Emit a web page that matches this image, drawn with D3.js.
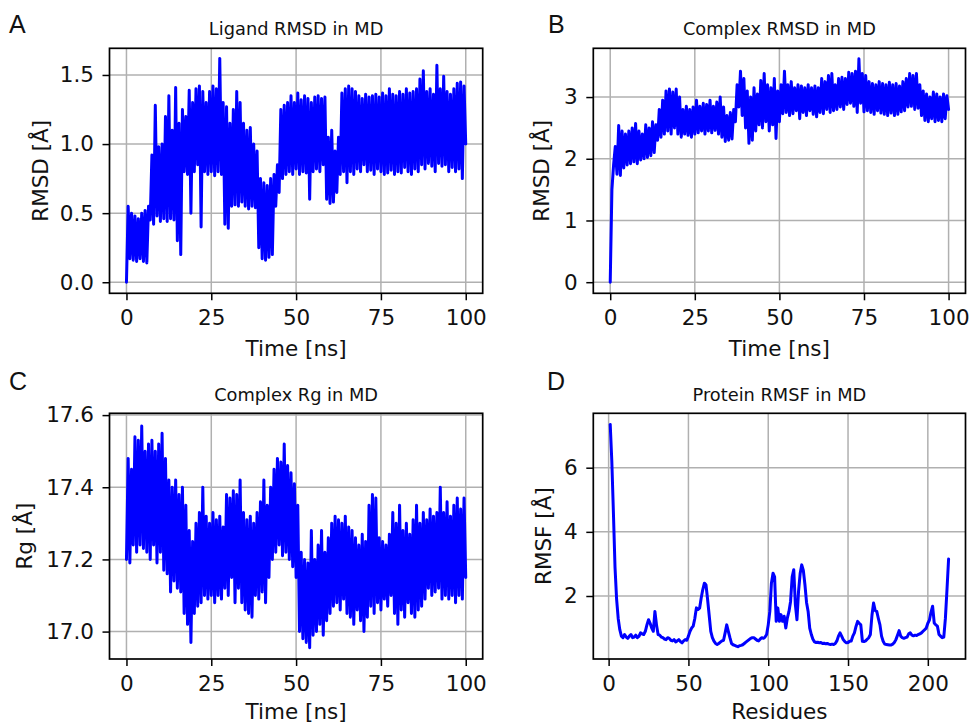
<!DOCTYPE html>
<html><head><meta charset="utf-8">
<script src="https://cdn.jsdelivr.net/npm/d3@7"></script>
<style>body{margin:0;background:#fff} svg{display:block}</style>
</head><body>
<svg id="fig" width="969" height="724"></svg>
<script>
// ---------------- DATA ----------------
const timeStepNs = 0.5; // sampling of the time series below (ns)

const ligandRmsd = [
0.00,0.55, 0.17,0.50, 0.16,0.48, 0.15,0.46, 0.17,0.50, 0.15,0.52, 0.14,0.55, 0.45,0.92, 0.42,1.28, 0.48,0.98,
0.44,1.00, 0.46,1.20, 0.44,1.35, 0.46,1.10, 0.45,1.41, 0.30,1.15, 0.20,1.25, 0.80,1.20, 0.78,1.39, 0.50,1.30,
0.80,1.40, 0.85,1.42, 0.40,1.38, 0.80,1.30, 0.78,1.38, 0.80,1.42, 0.77,1.40, 0.80,1.62, 0.78,1.30, 0.42,1.27,
0.39,1.15, 0.55,1.25, 0.56,1.38, 0.55,1.30, 0.58,1.15, 0.55,1.10, 0.53,1.12, 0.55,1.00, 0.54,0.95, 0.25,0.75,
0.17,0.72, 0.16,0.70, 0.18,0.75, 0.20,0.78, 0.55,0.85, 0.65,1.25, 0.75,1.28, 0.78,1.30, 0.80,1.35, 0.78,1.30,
0.82,1.37, 0.78,1.32, 0.80,1.35, 0.79,1.33, 0.60,1.30, 0.80,1.34, 0.82,1.35, 0.80,1.33, 0.85,1.34, 0.60,1.05,
0.57,1.10, 0.58,0.95, 0.65,1.05, 0.78,1.37, 0.80,1.40, 0.72,1.42, 0.80,1.40, 0.78,1.38, 0.82,1.35, 0.80,1.33,
0.85,1.36, 0.80,1.34, 0.81,1.35, 0.78,1.36, 0.82,1.34, 0.80,1.37, 0.78,1.35, 0.79,1.40, 0.81,1.36, 0.78,1.35,
0.80,1.38, 0.79,1.36, 0.83,1.40, 0.80,1.37, 0.78,1.38, 0.82,1.40, 0.80,1.47, 0.85,1.53, 0.82,1.38, 0.86,1.40,
0.84,1.36, 0.80,1.57, 0.86,1.40, 0.84,1.49, 0.85,1.38, 0.80,1.36, 0.83,1.40, 0.80,1.44, 0.82,1.45, 0.75,1.42,
1.00];

const complexRmsd = [
0.00,1.50, 1.90,2.20, 1.75,2.54, 1.73,2.45, 1.85,2.40, 1.90,2.45, 1.92,2.50, 1.95,2.57, 1.92,2.45, 1.98,2.40,
2.00,2.55, 2.02,2.50, 2.05,2.60, 2.10,2.55, 2.30,2.80, 2.35,2.95, 2.40,3.10, 2.45,3.13, 2.40,3.08, 2.50,3.13,
2.40,3.00, 2.35,2.80, 2.40,2.85, 2.38,2.80, 2.35,2.84, 2.40,2.95, 2.42,2.85, 2.45,2.90, 2.40,2.88, 2.45,2.95,
2.42,2.85, 2.46,2.92, 2.40,3.00, 2.35,2.84, 2.28,2.70, 2.30,2.75, 2.32,2.80, 2.60,3.20, 2.84,3.42, 2.70,3.30,
2.50,3.10, 2.25,3.00, 2.30,3.15, 2.45,3.05, 2.55,3.27, 2.50,3.38, 2.60,3.20, 2.45,3.15, 2.55,3.30, 2.33,3.10,
2.60,3.20, 2.73,3.42, 2.75,3.20, 2.70,3.25, 2.73,3.15, 2.78,3.20, 2.65,3.18, 2.75,3.15, 2.70,3.20, 2.78,3.15,
2.72,3.18, 2.68,3.15, 2.75,3.30, 2.73,3.25, 2.80,3.35, 2.75,3.38, 2.78,3.20, 2.80,3.30, 2.84,3.32, 2.80,3.30,
2.88,3.40, 2.90,3.38, 2.85,3.42, 2.75,3.62, 2.90,3.38, 2.76,3.35, 2.78,3.25, 2.75,3.22, 2.72,3.20, 2.78,3.25,
2.74,3.22, 2.72,3.20, 2.70,3.24, 2.74,3.20, 2.70,3.22, 2.72,3.18, 2.76,3.25, 2.78,3.30, 2.84,3.38, 2.85,3.35,
2.80,3.38, 2.82,3.20, 2.70,3.10, 2.62,3.05, 2.60,3.00, 2.65,3.08, 2.60,3.05, 2.62,3.00, 2.60,3.05, 2.65,3.02,
2.80];

const complexRg = [
17.20,17.48, 17.19,17.45, 17.24,17.54, 17.22,17.53, 17.24,17.57, 17.23,17.50, 17.22,17.52, 17.20,17.53, 17.24,17.50, 17.19,17.52,
17.22,17.55, 17.17,17.48, 17.16,17.42, 17.11,17.40, 17.14,17.42, 17.12,17.38, 17.11,17.40, 17.05,17.35, 17.02,17.28, 16.97,17.25,
17.05,17.30, 17.07,17.33, 17.08,17.40, 17.10,17.32, 17.09,17.30, 17.10,17.33, 17.08,17.31, 17.10,17.32, 17.09,17.29, 17.12,17.38,
17.10,17.37, 17.15,17.39, 17.08,17.38, 17.12,17.42, 17.08,17.33, 17.06,17.31, 17.05,17.32, 17.04,17.30, 17.10,17.33, 17.09,17.36,
17.11,17.42, 17.08,17.35, 17.15,17.40, 17.20,17.45, 17.22,17.48, 17.24,17.47, 17.21,17.52, 17.22,17.46, 17.20,17.44, 17.18,17.41,
17.15,17.35, 17.00,17.22, 16.98,17.20, 16.97,17.19, 16.955,17.28, 16.99,17.20, 17.00,17.24, 17.02,17.28, 16.99,17.22, 17.03,17.26,
17.05,17.30, 17.07,17.32, 17.08,17.31, 17.06,17.30, 17.09,17.32, 17.05,17.29, 17.04,17.28, 17.02,17.26, 17.06,17.24, 17.03,17.27,
17.00,17.25, 17.04,17.35, 17.07,17.38, 17.05,17.37, 17.08,17.26, 17.06,17.25, 17.09,17.24, 17.07,17.27, 17.10,17.33, 17.05,17.30,
17.02,17.35, 17.06,17.28, 17.04,17.30, 17.08,17.27, 17.05,17.31, 17.04,17.35, 17.06,17.30, 17.07,17.33, 17.09,17.31, 17.12,17.34,
17.10,17.32, 17.11,17.33, 17.12,17.40, 17.09,17.33, 17.10,17.36, 17.09,17.32, 17.10,17.35, 17.08,17.37, 17.10,17.34, 17.09,17.37,
17.15];

// RMSF per residue, residues 1..213
const proteinRmsf = [
7.35,6.20,4.60,2.90,1.90,1.30,0.95,0.75,0.70,0.80,
0.72,0.68,0.75,0.80,0.70,0.72,0.78,0.70,0.74,0.85,
0.82,0.80,0.90,1.10,1.26,1.15,1.00,0.90,1.52,1.10,
0.80,0.78,0.72,0.70,0.66,0.64,0.70,0.68,0.62,0.60,
0.64,0.57,0.60,0.64,0.58,0.54,0.60,0.64,0.62,0.75,
0.90,1.00,1.06,1.30,1.63,1.58,1.62,1.94,2.20,2.40,
2.35,1.90,1.40,0.90,0.70,0.59,0.52,0.49,0.52,0.56,
0.60,0.62,0.85,1.10,0.90,0.70,0.52,0.48,0.46,0.44,
0.42,0.45,0.46,0.48,0.52,0.56,0.60,0.64,0.68,0.70,
0.70,0.66,0.62,0.60,0.66,0.70,0.68,0.72,0.80,1.10,
1.52,2.40,2.71,2.60,1.21,1.63,1.21,1.42,1.21,1.37,
1.00,1.32,1.52,1.83,2.60,2.82,1.73,1.26,2.15,2.70,
2.97,2.80,2.35,1.80,1.52,1.00,0.80,0.65,0.57,0.55,
0.56,0.54,0.55,0.52,0.53,0.51,0.52,0.50,0.49,0.50,
0.49,0.52,0.60,0.75,0.85,0.75,0.64,0.58,0.54,0.55,
0.59,0.60,0.75,0.85,1.05,1.21,1.15,1.10,0.59,0.58,
0.60,0.65,0.70,0.80,1.40,1.78,1.55,1.52,1.30,1.10,
0.75,0.59,0.50,0.49,0.48,0.47,0.47,0.50,0.55,0.64,
0.78,0.92,0.75,0.70,0.68,0.70,0.72,0.82,0.85,0.78,
0.76,0.78,0.77,0.80,0.82,0.85,0.90,0.95,1.00,1.15,
1.25,1.50,1.68,1.16,1.10,1.06,0.80,0.75,0.70,0.72,
1.30,2.20,3.15];
const firstResidue = 1;

const timeTicks = [0, 25, 50, 75, 100];
const residueTicks = [0, 50, 100, 150, 200];
const ligandRmsdTicks = [0.0, 0.5, 1.0, 1.5];
const complexRmsdTicks = [0, 1, 2, 3];
const rgTicks = [17.0, 17.2, 17.4, 17.6];
const rmsfTicks = [2, 4, 6];

const panelLetters = ["A", "B", "C", "D"];
const panelTitles = ["Ligand RMSD in MD", "Complex RMSD in MD", "Complex Rg in MD", "Protein RMSF in MD"];
const xLabels = ["Time [ns]", "Time [ns]", "Time [ns]", "Residues"];
const yLabels = ["RMSD [Å]", "RMSD [Å]", "Rg [Å]", "RMSF [Å]"];

// ---------------- DRAWING ----------------
const svg = d3.select("#fig");
svg.append("rect").attr("width", 969).attr("height", 724).attr("fill", "#fff");

const FONT = "'DejaVu Sans', Verdana, sans-serif";
const TICK_FS = 21.5, LABEL_FS = 21.5, TITLE_FS = 17.8;
const LINE_COLOR = "#0000ff";
const GRID_COLOR = "#b0b0b0";

const panels = [
  {values: ligandRmsd, xOf: i => i * timeStepNs, xDomain: [-5, 105], yDomain: [-0.08, 1.693],
   xTicks: timeTicks, yTicks: ligandRmsdTicks, yFmt: d3.format(".1f"),
   box: {l: 109.5, r: 482.7, t: 48.3, b: 293.3}, titleY: 35, xLabelY: 355.5, yLabelX: 47.5, letterX: 9, letterY: 33},
  {values: complexRmsd, xOf: i => i * timeStepNs, xDomain: [-5, 105], yDomain: [-0.18, 3.79],
   xTicks: timeTicks, yTicks: complexRmsdTicks, yFmt: d3.format("d"),
   box: {l: 593.3, r: 965.5, t: 48.3, b: 293.3}, titleY: 35, xLabelY: 355.5, yLabelX: 549, letterX: 548, letterY: 33},
  {values: complexRg, xOf: i => i * timeStepNs, xDomain: [-5, 105], yDomain: [16.924, 17.605],
   xTicks: timeTicks, yTicks: rgTicks, yFmt: d3.format(".1f"),
   box: {l: 109.5, r: 482.7, t: 413.3, b: 659}, titleY: 400.5, xLabelY: 719, yLabelX: 31.5, letterX: 9, letterY: 390},
  {values: proteinRmsf, xOf: i => i + firstResidue, xDomain: [-9.6, 223.6], yDomain: [0.036, 7.696],
   xTicks: residueTicks, yTicks: rmsfTicks, yFmt: d3.format("d"),
   box: {l: 593.3, r: 965.5, t: 413.3, b: 659}, titleY: 400.5, xLabelY: 719, yLabelX: 551, letterX: 547, letterY: 390}
];

panels.forEach((p, k) => {
  const B = p.box;
  const g = svg.append("g");
  const x = d3.scaleLinear().domain(p.xDomain).range([B.l, B.r]);
  const y = d3.scaleLinear().domain(p.yDomain).range([B.b, B.t]);

  // grid
  g.append("g").selectAll("line").data(p.xTicks).join("line")
    .attr("x1", d => x(d)).attr("x2", d => x(d)).attr("y1", B.t).attr("y2", B.b)
    .attr("stroke", GRID_COLOR).attr("stroke-width", 1.5);
  g.append("g").selectAll("line").data(p.yTicks).join("line")
    .attr("x1", B.l).attr("x2", B.r).attr("y1", d => y(d)).attr("y2", d => y(d))
    .attr("stroke", GRID_COLOR).attr("stroke-width", 1.5);

  // data line
  const clipId = "clip" + k;
  svg.append("clipPath").attr("id", clipId).append("rect")
    .attr("x", B.l).attr("y", B.t).attr("width", B.r - B.l).attr("height", B.b - B.t);
  g.append("path").datum(p.values)
    .attr("clip-path", `url(#${clipId})`)
    .attr("d", d3.line().x((d, i) => x(p.xOf(i))).y(d => y(d)))
    .attr("fill", "none").attr("stroke", LINE_COLOR).attr("stroke-width", 3)
    .attr("stroke-linejoin", "round").attr("stroke-linecap", "round");

  // spines
  g.append("rect").attr("x", B.l).attr("y", B.t).attr("width", B.r - B.l).attr("height", B.b - B.t)
    .attr("fill", "none").attr("stroke", "#000").attr("stroke-width", 1.7);

  // axes
  const xa = g.append("g").attr("transform", `translate(0,${B.b})`)
    .call(d3.axisBottom(x).tickValues(p.xTicks).tickSize(7).tickPadding(9.5).tickFormat(d3.format("d")));
  const ya = g.append("g").attr("transform", `translate(${B.l},0)`)
    .call(d3.axisLeft(y).tickValues(p.yTicks).tickSize(7).tickPadding(8.5).tickFormat(p.yFmt));
  [xa, ya].forEach(a => {
    a.select(".domain").remove();
    a.selectAll(".tick line").attr("stroke", "#000").attr("stroke-width", 1.5);
    a.selectAll(".tick text").attr("fill", "#111").style("font-family", FONT).style("font-size", TICK_FS + "px");
  });

  // title
  g.append("text").attr("x", (B.l + B.r) / 2).attr("y", p.titleY).attr("text-anchor", "middle")
    .style("font-family", FONT).style("font-size", TITLE_FS + "px").attr("fill", "#111")
    .text(panelTitles[k]);
  // x label
  g.append("text").attr("x", (B.l + B.r) / 2).attr("y", p.xLabelY).attr("text-anchor", "middle")
    .style("font-family", FONT).style("font-size", LABEL_FS + "px").attr("fill", "#111")
    .text(xLabels[k]);
  // y label
  g.append("text").attr("transform", `translate(${p.yLabelX},${(B.t + B.b) / 2}) rotate(-90)`)
    .attr("text-anchor", "middle")
    .style("font-family", FONT).style("font-size", LABEL_FS + "px").attr("fill", "#111")
    .text(yLabels[k]);
  // panel letter
  g.append("text").attr("x", p.letterX).attr("y", p.letterY)
    .style("font-family", "'Liberation Sans', Arial, sans-serif").style("font-size", "25px").attr("fill", "#111")
    .text(panelLetters[k]);
});
</script>
</body></html>
